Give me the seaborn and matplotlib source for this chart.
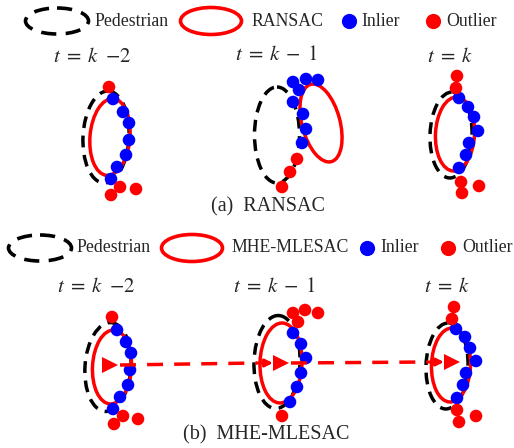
import numpy as np
import pandas as pd
import matplotlib
matplotlib.use("Agg")
import matplotlib.pyplot as plt
from matplotlib.patches import Ellipse
import seaborn as sns

# ---- canvas (pixel-like data coordinates) ----
W, H = 514, 448

# ---- text ----
panel_titles = ["(a)  RANSAC", "(b)  MHE-MLESAC"]
time_labels = [r"$t\;=\;k\;\;{-}2$", r"$t\;=\;k\;-\;1$", r"$t\;=\;k$"]
legend_a = ["Pedestrian", "RANSAC", "Inlier", "Outlier"]
legend_b = ["Pedestrian", "MHE-MLESAC", "Inlier", "Outlier"]

# ---- pedestrian outlines (cx, cy, width, height, angle) ----
ped_a = [(106, 137, 46, 92, 3), (277, 135, 45, 96, 0), (451, 135, 42, 86, 2)]
ped_b = [(108, 367, 46, 89, 4), (277, 362, 46, 93, 2), (447, 366, 42, 86, 2)]

# ---- estimated fits (cx, cy, width, height, angle) ----
fit_a = [(110, 137, 40, 77, 5), (321, 123, 38, 80, -15), (455, 134, 39, 74, 3)]
fit_b = [(112, 367, 39, 74, 3), (281, 363, 42, 80, 2), (451, 365, 39, 74, 2)]

# ---- estimated centres along the track (MHE-MLESAC) ----
track_x = [110, 281, 452]
track_y = [365, 363, 362]

# ---- measurements: RANSAC frames ----
a_in_x = [113, 123, 129, 129, 126, 117, 111,
          293, 306, 318, 299, 293, 303, 306, 302,
          459, 468, 474, 478, 469, 466, 459]
a_in_y = [99, 112, 123, 140, 155, 167, 179,
          82, 79, 80, 90, 102, 114, 129, 143,
          98, 107, 117, 131, 143, 155, 168]
a_out_x = [109, 120, 136, 111,
           297, 290, 282,
           457, 456, 461, 462, 479]
a_out_y = [87, 187, 189, 195,
           159, 172, 187,
           76, 88, 182, 193, 186]

# ---- measurements: MHE-MLESAC frames ----
b_in_x = [117, 126, 131, 130, 128, 120, 113,
          293, 301, 306, 301, 297, 290,
          456, 465, 470, 476, 466, 463, 457]
b_in_y = [330, 342, 353, 370, 385, 397, 409,
          333, 344, 358, 373, 387, 402,
          329, 337, 348, 361, 373, 385, 398]
b_out_x = [112, 123, 138, 114,
           293, 305, 318, 298, 282,
           454, 452, 457, 459, 476]
b_out_y = [317, 416, 419, 424,
           313, 310, 313, 322, 416,
           307, 319, 410, 422, 416]

BLUE = "#0000ff"
RED = "#ff0000"
SERIF = "Liberation Serif"

sns.set_theme(style="white")
plt.rcParams["font.family"] = [SERIF, "DejaVu Serif"]
plt.rcParams["mathtext.fontset"] = "stix"

fig = plt.figure(figsize=(W / 100, H / 100), dpi=100)
ax = fig.add_axes([0, 0, 1, 1])
ax.set_xlim(0, W)
ax.set_ylim(H, 0)
ax.set_axis_off()

ped_style = dict(fill=False, ec="black", lw=2.5, ls=(0, (3.4, 2.2)))
fit_style = dict(fill=False, ec=RED, lw=2.5)


def draw_ellipses(specs, style):
    for cx, cy, w, h, ang in specs:
        ax.add_patch(Ellipse((cx, cy), w, h, angle=ang, **style))


draw_ellipses(ped_a, ped_style)
draw_ellipses(ped_b, ped_style)
draw_ellipses(fit_a, fit_style)
draw_ellipses(fit_b, fit_style)

pts = pd.concat([
    pd.DataFrame({"x": a_in_x, "y": a_in_y, "kind": "Inlier"}),
    pd.DataFrame({"x": a_out_x, "y": a_out_y, "kind": "Outlier"}),
    pd.DataFrame({"x": b_in_x, "y": b_in_y, "kind": "Inlier"}),
    pd.DataFrame({"x": b_out_x, "y": b_out_y, "kind": "Outlier"}),
], ignore_index=True)
sns.scatterplot(data=pts, x="x", y="y", hue="kind",
                palette={"Inlier": BLUE, "Outlier": RED},
                s=82, linewidth=0, legend=False, ax=ax, zorder=3)

# track: dashed connections, small arrows and triangle markers
for i in range(len(track_x) - 1):
    x0, y0 = track_x[i] + 10, track_y[i]
    x1, y1 = track_x[i + 1] - 24, track_y[i + 1]
    ax.plot([x0, x1], [y0, y1], color=RED, lw=2.5, ls=(0, (4.6, 3.2)), zorder=4)
    ax.annotate("", xy=(track_x[i + 1] - 8, track_y[i + 1]),
                xytext=(x1, y1),
                arrowprops=dict(arrowstyle="-|>", color=RED, lw=2.2,
                                mutation_scale=11, shrinkA=0, shrinkB=0),
                zorder=4)
ax.plot(track_x, track_y, ls="none", marker=">", ms=11.5, color=RED, mew=0, zorder=5)

# time labels
for cx, cy, lab in zip([92, 276, 450], [57, 56, 57], time_labels):
    ax.text(cx, cy, lab, ha="center", va="center", fontsize=15)
for cx, cy, lab in zip([96, 274, 447], [287, 287, 287], time_labels):
    ax.text(cx, cy, lab, ha="center", va="center", fontsize=15)

# panel titles
ax.text(268, 207, panel_titles[0], ha="center", va="center", fontsize=14.5)
ax.text(266, 435, panel_titles[1], ha="center", va="center", fontsize=14.5)


def draw_legend(y, items):
    (px, pl), (fx, fl), (ix, il), (ox, ol) = items
    ax.add_patch(Ellipse((px, y), 63, 26, fill=False, ec="black", lw=2.6,
                         ls=(0, (4.2, 2.6))))
    ax.text(pl[0], y, pl[1], ha="left", va="center", fontsize=12.8)
    ax.add_patch(Ellipse((fx, y), 61, 27, fill=False, ec=RED, lw=2.6))
    ax.text(fl[0], y, fl[1], ha="left", va="center", fontsize=12.8)
    ax.scatter([ix], [y], s=120, color=BLUE, lw=0)
    ax.text(il[0], y, il[1], ha="left", va="center", fontsize=12.8)
    ax.scatter([ox], [y], s=120, color=RED, lw=0)
    ax.text(ol[0], y, ol[1], ha="left", va="center", fontsize=12.8)


draw_legend(21, [(57, (94, legend_a[0])), (211, (251, legend_a[1])),
                 (349, (361, legend_a[2])), (433, (446, legend_a[3]))])
draw_legend(248, [(40, (76, legend_b[0])), (192, (231, legend_b[1])),
                  (367, (380, legend_b[2])), (448, (462, legend_b[3]))])

fig.savefig("out.png", dpi=100)
